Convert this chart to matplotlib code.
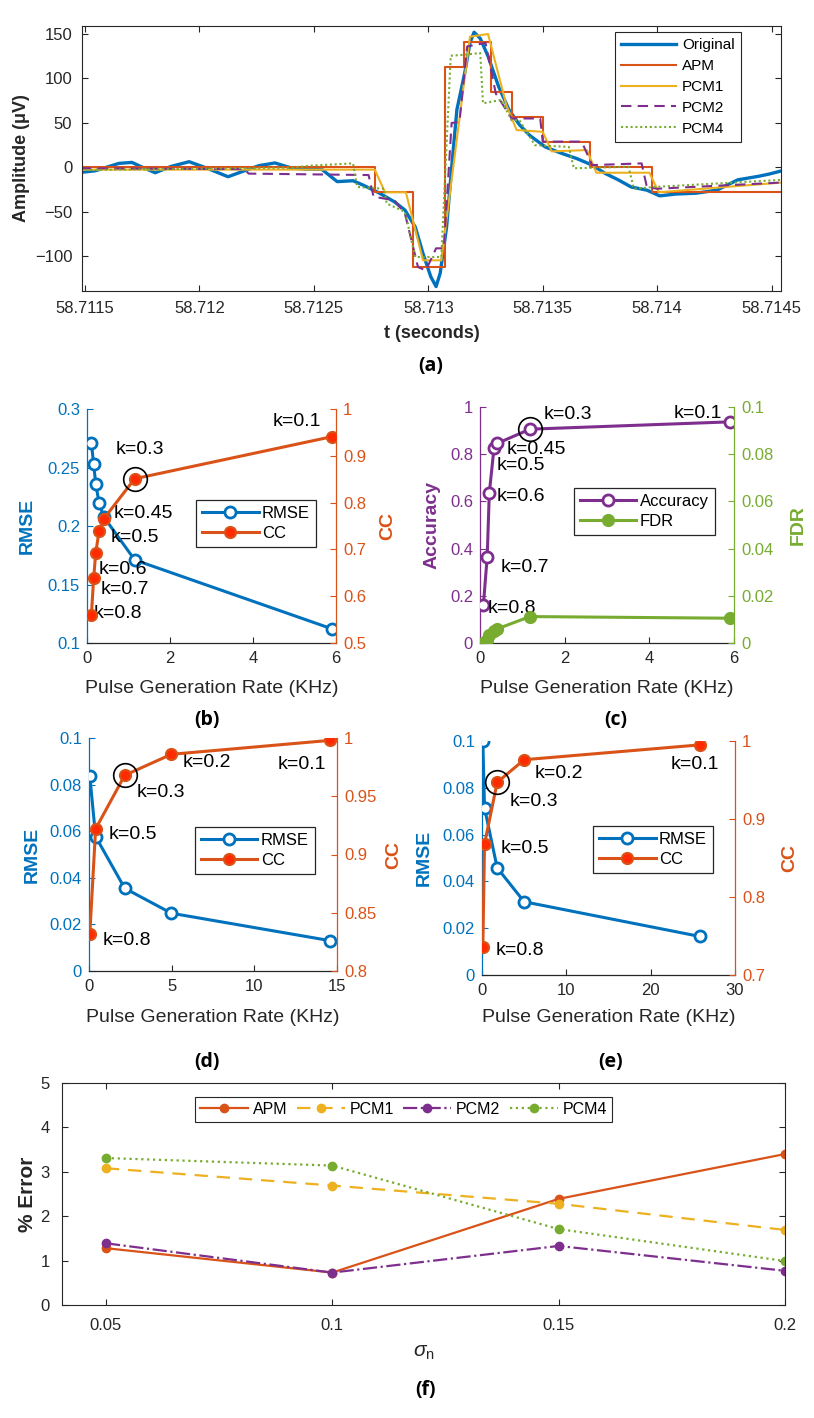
import matplotlib
matplotlib.use("Agg")
import matplotlib.pyplot as plt

plt.rcParams['font.family'] = ['Liberation Sans', 'DejaVu Sans']
plt.rcParams['mathtext.fontset'] = 'custom'
plt.rcParams['mathtext.it'] = 'Liberation Sans:italic'
plt.rcParams['mathtext.rm'] = 'Liberation Sans'

# ---------------- data ----------------
# (a) waveforms
t_orig = [58.711482, 58.711545, 58.711580, 58.711648, 58.711705, 58.711761, 58.711807,
          58.711875, 58.711955, 58.712034, 58.712125, 58.712205, 58.712261, 58.712330,
          58.712398, 58.712466, 58.712534, 58.712602, 58.712671, 58.712716, 58.712784,
          58.712852, 58.712898, 58.712943, 58.712977, 58.713011, 58.713034, 58.713052,
          58.713080, 58.713102, 58.713125, 58.713159, 58.713182, 58.713200, 58.713227,
          58.713261, 58.713307, 58.713352, 58.713398, 58.713443, 58.713511, 58.713580,
          58.713648, 58.713716, 58.713773, 58.713830, 58.713886, 58.713955, 58.714011,
          58.714080, 58.714170, 58.714261, 58.714352, 58.714443, 58.714489, 58.714545]
amp_orig = [-5.6, -3.8, -1, 4.5, 5.6, -1, -6,
            1, 6.4, -1, -10.5, -3, 2, 5,
            -0.4, -2, -2, -16, -15, -20, -28.6,
            -38.7, -48, -67, -97, -123, -134, -119,
            -67, 0, 65, 106, 140, 152, 145,
            125, 91, 65, 48, 36, 23, 16,
            10, 2.6, -6.8, -14, -22, -25.6, -32,
            -30, -29, -25.6, -14, -10, -7.5, -3.8]

t_apm = [58.711482, 58.712766, 58.712932, 58.713073, 58.713155, 58.713273,
         58.713364, 58.713500, 58.713705, 58.713977, 58.714545]
amp_apm = [0, -28, -112, 113, 141, 85, 57, 29, 0, -28, -28]

t_pcm1 = [58.711482, 58.712766, 58.712811, 58.712902, 58.712977, 58.713057, 58.713182,
          58.713261, 58.713341, 58.713386, 58.713500, 58.713539, 58.713693, 58.713734,
          58.713966, 58.714007, 58.714545]
amp_pcm1 = [-2.5, -2.5, -28, -28, -104.5, -104.5, 147, 150, 70, 42, 40, 18, 19.5, -6,
            -6, -28, -17]

t_pcm2 = [58.711482, 58.712193, 58.712216, 58.712739, 58.712761, 58.712852, 58.712898,
          58.712955, 58.712989, 58.713034, 58.713068, 58.713102, 58.713136, 58.713170,
          58.713250, 58.713295, 58.713364, 58.713489, 58.713500, 58.713670, 58.713716,
          58.713932, 58.713955, 58.714000, 58.714545]
amp_pcm2 = [-1, -2, -7, -8.6, -33, -37, -52, -112, -116, -91, -91, 50, 51, 136,
            140, 83, 55, 55, 29, 29, 2.6, 4.5, -22, -24, -17]

t_pcm4 = [58.711482, 58.712398, 58.712489, 58.712671, 58.712689, 58.712807, 58.712818,
          58.712898, 58.712943, 58.713057, 58.713098, 58.713159, 58.713227, 58.713239,
          58.713318, 58.713364, 58.713398, 58.713466, 58.713614, 58.713636, 58.713875,
          58.713898, 58.713989, 58.714545]
amp_pcm4 = [-3, -0.4, 2, 4.5, -22, -24, -40.6, -50, -100.8, -100.8, 125.6, 126.7,
            128.6, 72, 76, 53, 53, 25, 23, -1, 0.75, -24, -22, -14]

a_xticks = [58.7115, 58.712, 58.7125, 58.713, 58.7135, 58.714, 58.7145]
a_xticklabels = ['58.7115', '58.712', '58.7125', '58.713', '58.7135', '58.714', '58.7145']
a_yticks = [-100, -50, 0, 50, 100, 150]

# (b)
b_rate = [0.105, 0.16, 0.21, 0.29, 0.40, 1.15, 5.91]
b_rmse = [0.271, 0.253, 0.236, 0.220, 0.208, 0.171, 0.112]
b_cc = [0.559, 0.638, 0.692, 0.739, 0.765, 0.851, 0.941]
b_k = ['k=0.8', 'k=0.7', 'k=0.6', 'k=0.5', 'k=0.45', 'k=0.3', 'k=0.1']

# (c)
c_rate = [0.08, 0.17, 0.22, 0.33, 0.41, 1.18, 5.9]
c_acc = [0.161, 0.365, 0.636, 0.825, 0.846, 0.906, 0.937]
c_fdr = [0.0, 0.0014, 0.0032, 0.005, 0.006, 0.0112, 0.0105]
c_k = ['k=0.8', 'k=0.7', 'k=0.6', 'k=0.5', 'k=0.45', 'k=0.3', 'k=0.1']

# (d)
d_rate = [0.05, 0.4, 2.16, 4.98, 14.6]
d_rmse = [0.0835, 0.0577, 0.0355, 0.0248, 0.013]
d_cc = [0.832, 0.922, 0.968, 0.986, 0.998]
d_k = ['k=0.8', 'k=0.5', 'k=0.3', 'k=0.2', 'k=0.1']

# (e)
e_rate = [0.1, 0.3, 1.8, 5.0, 25.8]
e_rmse = [0.1, 0.0714, 0.0458, 0.0313, 0.0165]
e_cc = [0.736, 0.868, 0.947, 0.976, 0.995]
e_k = ['k=0.8', 'k=0.5', 'k=0.3', 'k=0.2', 'k=0.1']

# (f)
sigma_n = [0.05, 0.1, 0.15, 0.2]
err_apm = [1.28, 0.73, 2.39, 3.40]
err_pcm1 = [3.08, 2.69, 2.28, 1.69]
err_pcm2 = [1.39, 0.73, 1.33, 0.77]
err_pcm4 = [3.31, 3.14, 1.71, 0.99]

# ---------------- styles ----------------
BLUE = '#0072BD'
ORANGE = '#D95319'
YELLOW = '#EDB120'
PURPLE = '#7E2F8E'
GREEN = '#77AC30'
RED = '#FF2A00'
DARK = '#262626'
LAB_FONT = ['Open Sans', 'DejaVu Sans']

W, H = 814, 1418
fig = plt.figure(figsize=(W / 100, H / 100), dpi=100)


def rect(x0, y0, x1, y1):
    return [x0 / W, 1 - y1 / H, (x1 - x0) / W, (y1 - y0) / H]


def ftext(x, y, s, **kw):
    fig.text(x / W, 1 - y / H, s, ha='center', va='center', **kw)


# ---------------- (a) ----------------
ax = fig.add_axes(rect(82, 26, 781, 291))
ax.plot(t_orig, amp_orig, color=BLUE, lw=2.4, label='Original')
ax.plot(t_apm, amp_apm, color=ORANGE, lw=1.5, drawstyle='steps-post', label='APM')
ax.plot(t_pcm1, amp_pcm1, color=YELLOW, lw=1.5, label='PCM1')
ax.plot(t_pcm2, amp_pcm2, color=PURPLE, lw=1.5, ls=(0, (5, 3)), label='PCM2')
ax.plot(t_pcm4, amp_pcm4, color=GREEN, lw=1.5, ls=(0, (1, 1.3)), label='PCM4')
ax.set_xlim(58.711487, 58.714541)
ax.set_ylim(-139, 159)
ax.set_xticks(a_xticks)
ax.set_xticklabels(a_xticklabels)
ax.set_yticks(a_yticks)
ax.tick_params(direction='in', top=True, right=True, length=4, width=0.8,
               labelsize=12, colors=DARK, pad=7)
for s in ax.spines.values():
    s.set_color(DARK)
    s.set_linewidth(0.8)
ax.set_ylabel('Amplitude (μV)', fontsize=13, fontweight='bold', color=DARK, va='center')
ax.yaxis.set_label_coords((22 - 82) / 699, 0.5)
ax.set_xlabel('t (seconds)', fontsize=13, fontweight='bold', color=DARK, va='center')
ax.xaxis.set_label_coords(0.5, (291 - 333) / 265)
leg = ax.legend(loc='upper left', bbox_to_anchor=((615 - 82) / 699, (291 - 32) / 265),
                borderaxespad=0, fontsize=11, handlelength=3.6, fancybox=False,
                framealpha=1, edgecolor=DARK, labelspacing=0.45, handletextpad=0.4)
leg.get_frame().set_linewidth(0.8)
ftext(431, 366, '(a)', fontsize=14, fontweight='bold', family=LAB_FONT)


# ---------------- dual-axis helper ----------------
def dual(box, x, yl, yr, lcol, rcol, lname, rname, xlim, xticks, lylim, lyticks,
         lylabels, rylim, ryticks, rylabels, lfill, rfill, lab_x, lab_y, labels,
         circ_idx, circ_on_right, leg_anchor, lylabel_x, rylabel_x, xlabel_y):
    x0, y0, x1, y1 = box
    a1 = fig.add_axes(rect(x0, y0, x1, y1))
    a2 = a1.twinx()
    a1.plot(x, yl, '-o', color=lcol, lw=2.2, ms=8, mew=2,
            mfc=(lcol if lfill else 'white'), mec=lcol, label=lname, zorder=3)
    a2.plot(x, yr, '-o', color=rcol, lw=2.2, ms=8, mew=1.5,
            mfc=(rfill if rfill else 'white'), mec=rcol, label=rname, zorder=3)
    a1.set_xlim(*xlim)
    a1.set_xticks(xticks)
    a1.set_xticklabels([('%g' % v) for v in xticks])
    a1.set_ylim(*lylim)
    a1.set_yticks(lyticks)
    a1.set_yticklabels(lylabels)
    a2.set_ylim(*rylim)
    a2.set_yticks(ryticks)
    a2.set_yticklabels(rylabels)
    for a in (a1, a2):
        a.spines['top'].set_visible(False)
    a1.spines['right'].set_visible(False)
    a2.spines['left'].set_visible(False)
    a2.spines['bottom'].set_visible(False)
    a1.spines['left'].set_color(lcol)
    a2.spines['right'].set_color(rcol)
    a1.spines['bottom'].set_color(DARK)
    for s in (a1.spines['left'], a2.spines['right'], a1.spines['bottom']):
        s.set_linewidth(0.9)
    a1.tick_params(axis='x', direction='in', length=4, labelsize=12, colors=DARK, pad=6)
    a1.tick_params(axis='y', direction='in', length=4, labelsize=12, colors=lcol, pad=5)
    a2.tick_params(axis='y', direction='in', length=4, labelsize=12, colors=rcol, pad=5)
    a1.set_ylabel(lname, fontsize=14, fontweight='bold', color=lcol, va='center')
    a1.yaxis.set_label_coords(lylabel_x, 0.5)
    a2.set_ylabel(rname, fontsize=14, fontweight='bold', color=rcol, rotation=90,
                  va='center')
    a2.yaxis.set_label_coords(rylabel_x, 0.5)
    a1.set_xlabel('Pulse Generation Rate (KHz)', fontsize=14, color=DARK, va='center')
    a1.xaxis.set_label_coords(0.5, xlabel_y)
    for tx, ty, s in zip(lab_x, lab_y, labels):
        a1.text(tx, ty, s, fontsize=14, ha='center', va='center', color='black', zorder=5)
    if circ_on_right:
        a2.plot([x[circ_idx]], [yr[circ_idx]], 'o', ms=17, mfc='none', mec='black',
                mew=1.2, zorder=4)
    else:
        a1.plot([x[circ_idx]], [yl[circ_idx]], 'o', ms=17, mfc='none', mec='black',
                mew=1.2, zorder=4)
    h = [a1.get_lines()[0], a2.get_lines()[0]]
    lg = a2.legend(h, [lname, rname], loc='upper left', bbox_to_anchor=leg_anchor,
                   borderaxespad=0, fontsize=12, handlelength=3.4, fancybox=False,
                   framealpha=1, edgecolor=DARK, labelspacing=0.3, handletextpad=0.2,
                   borderpad=0.35)
    lg.get_frame().set_linewidth(0.9)
    return a1, a2


# (b)
dual((87, 409, 336, 643), b_rate, b_rmse, b_cc, BLUE, ORANGE, 'RMSE', 'CC',
     (0, 6), [0, 2, 4, 6], (0.1, 0.3), [0.1, 0.15, 0.2, 0.25, 0.3],
     ['0.1', '0.15', '0.2', '0.25', '0.3'],
     (0.5, 1.0), [0.5, 0.6, 0.7, 0.8, 0.9, 1.0], ['0.5', '0.6', '0.7', '0.8', '0.9', '1'],
     False, RED,
     [0.75, 0.91, 0.87, 1.15, 1.35, 1.27, 5.05],
     [0.125, 0.1453, 0.163, 0.19, 0.2106, 0.265, 0.289], b_k,
     5, True, (0.438, 0.611), (27 - 87) / 249, (388 - 87) / 249, (643 - 688) / 234)

# (c)
dual((480, 407, 734, 643), c_rate, c_acc, c_fdr, PURPLE, GREEN, 'Accuracy', 'FDR',
     (0, 6), [0, 2, 4, 6], (0, 1), [0, 0.2, 0.4, 0.6, 0.8, 1.0],
     ['0', '0.2', '0.4', '0.6', '0.8', '1'],
     (0, 0.1), [0, 0.02, 0.04, 0.06, 0.08, 0.1], ['0', '0.02', '0.04', '0.06', '0.08', '0.1'],
     False, GREEN,
     [0.75, 1.06, 0.96, 0.96, 1.33, 2.08, 5.14],
     [0.148, 0.319, 0.62, 0.752, 0.82, 0.969, 0.973], c_k,
     5, False, (0.37, 0.655), (432 - 480) / 254, (798 - 480) / 254, (643 - 688) / 236)

# (d)
dual((89, 738, 337, 971), d_rate, d_rmse, d_cc, BLUE, ORANGE, 'RMSE', 'CC',
     (0, 15), [0, 5, 10, 15], (0, 0.1), [0, 0.02, 0.04, 0.06, 0.08, 0.1],
     ['0', '0.02', '0.04', '0.06', '0.08', '0.1'],
     (0.8, 1.0), [0.8, 0.85, 0.9, 0.95, 1.0], ['0.8', '0.85', '0.9', '0.95', '1'],
     False, RED,
     [2.3, 2.66, 4.37, 7.1, 12.9], [0.0129, 0.0587, 0.0764, 0.0893, 0.0885], d_k,
     2, True, (0.427, 0.618), (32 - 89) / 248, (394 - 89) / 248, (971 - 1017) / 233)

# (e)
dual((482, 741, 735, 975), e_rate, e_rmse, e_cc, BLUE, ORANGE, 'RMSE', 'CC',
     (0, 30), [0, 10, 20, 30], (0, 0.1), [0, 0.02, 0.04, 0.06, 0.08, 0.1],
     ['0', '0.02', '0.04', '0.06', '0.08', '0.1'],
     (0.7, 1.0), [0.7, 0.8, 0.9, 1.0], ['0.7', '0.8', '0.9', '1'],
     False, RED,
     [4.5, 5.1, 6.2, 9.1, 25.2], [0.0106, 0.0542, 0.074, 0.0859, 0.0899], e_k,
     2, True, (0.439, 0.635), (424 - 482) / 253, (790 - 482) / 253, (975 - 1018) / 234)

ftext(207, 720, '(b)', fontsize=14, fontweight='bold', family=LAB_FONT)
ftext(616, 720, '(c)', fontsize=14, fontweight='bold', family=LAB_FONT)
ftext(207, 1062, '(d)', fontsize=14, fontweight='bold', family=LAB_FONT)
ftext(611, 1062, '(e)', fontsize=14, fontweight='bold', family=LAB_FONT)

# ---------------- (f) ----------------
af = fig.add_axes(rect(62, 1083, 785, 1305))
af.plot(sigma_n, err_apm, '-o', color=ORANGE, lw=1.6, ms=6, label='APM')
af.plot(sigma_n, err_pcm1, '--o', color=YELLOW, lw=1.6, ms=6, dashes=(6, 4), label='PCM1')
af.plot(sigma_n, err_pcm2, '-.o', color=PURPLE, lw=1.6, ms=6, label='PCM2')
af.plot(sigma_n, err_pcm4, ':o', color=GREEN, lw=1.6, ms=6, label='PCM4')
af.set_xlim(0.0403, 0.2)
af.set_ylim(0, 5)
af.set_xticks(sigma_n)
af.set_xticklabels(['0.05', '0.1', '0.15', '0.2'])
af.set_yticks([0, 1, 2, 3, 4, 5])
af.tick_params(direction='in', top=True, right=True, length=4, width=0.8,
               labelsize=12, colors=DARK, pad=9)
for s in af.spines.values():
    s.set_color(DARK)
    s.set_linewidth(0.8)
af.set_ylabel('% Error', fontsize=15, fontweight='bold', color=DARK, va='center')
af.yaxis.set_label_coords((27 - 62) / 723, 0.5)
af.set_xlabel(r'$\sigma_{\rm n}$', fontsize=15, color=DARK, va='center')
af.xaxis.set_label_coords(0.5, (1305 - 1353) / 222)
lg = af.legend(loc='upper left', bbox_to_anchor=((195 - 62) / 723, (1305 - 1097) / 222),
               borderaxespad=0, ncol=4, fontsize=11.5, handlelength=3.0, fancybox=False,
               framealpha=1, edgecolor=DARK, columnspacing=0.6, handletextpad=0.3,
               borderpad=0.3)
lg.get_frame().set_linewidth(0.8)
ftext(425, 1390, '(f)', fontsize=14, fontweight='bold', family=LAB_FONT)

fig.savefig('out.png', dpi=100)
